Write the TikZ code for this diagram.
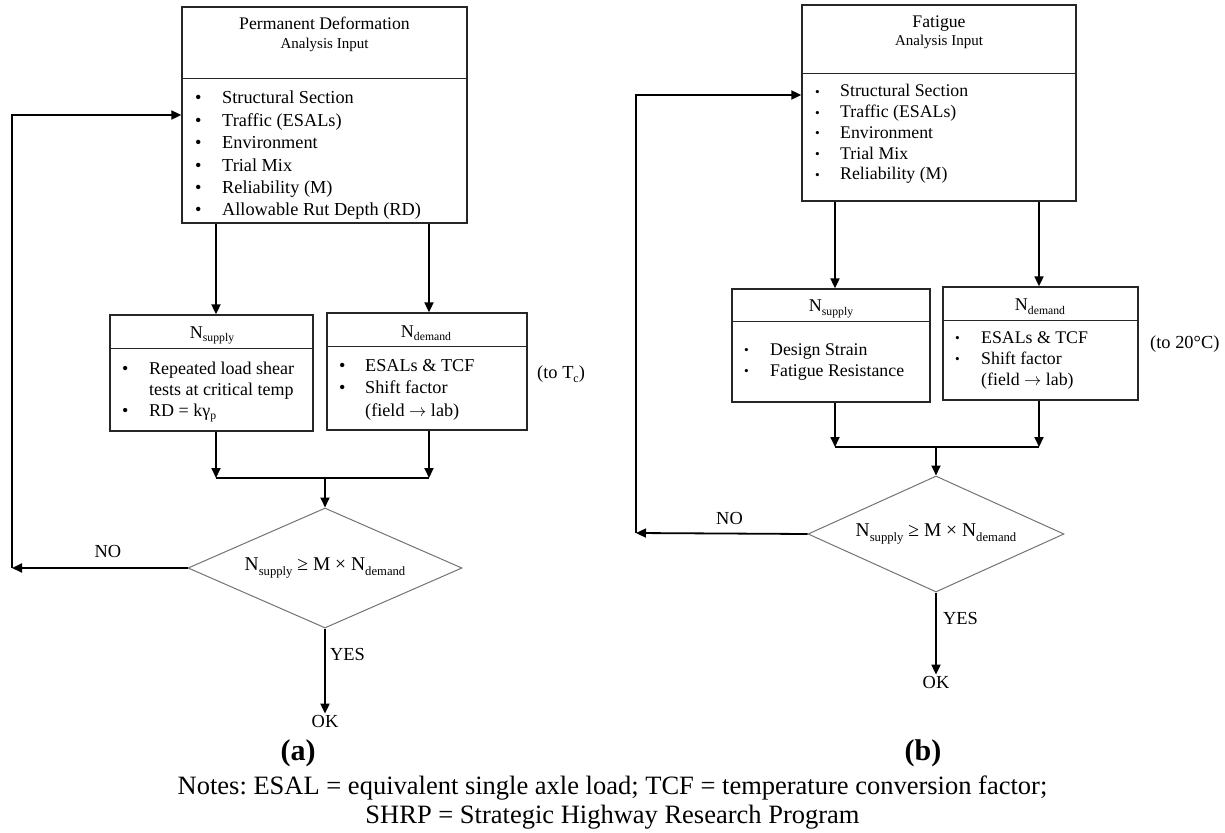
\documentclass[tikz,border=0pt]{standalone}
\usepackage{fontspec}
\setmainfont{Liberation Serif}
\usetikzlibrary{arrows.meta,calc,shapes.geometric}
\frenchspacing

% lowered, reduced text for subscripts such as N_supply
\newcommand{\subtxt}[1]{\raisebox{-0.22em}{\scalebox{0.65}{#1}}}
% small bullet used in the fatigue panel
\newcommand{\smallbul}{\raisebox{0.5pt}{\scalebox{0.75}{\textbullet}}}
% wide arrow for "field -> lab"
\newcommand{\toarrow}{\ensuremath{\rightarrow}}

\begin{document}
\begin{tikzpicture}[x=1pt,y=-1pt,
  box/.style={draw=black!85, line width=1.3pt, inner sep=0pt},
  divider/.style={draw=black!85, line width=1.3pt},
  decision/.style={draw=black!55, line width=1pt, shape=diamond, aspect=2.3, inner sep=0pt,
    font=\fontsize{19.5}{22}\selectfont},
  conn/.style={line width=1.8pt},
  arr/.style={conn, -{Triangle[length=10pt,width=9pt]}},
  lbl/.style={inner sep=0pt, anchor=base},
  ttl/.style={lbl, font=\fontsize{17.7}{21}\selectfont},
  subttl/.style={lbl, font=\fontsize{15}{18}\selectfont},
  ntl/.style={lbl, font=\fontsize{18}{21}\selectfont},
  word/.style={lbl, font=\fontsize{18.4}{21}\selectfont},
  lst/.style={inner sep=0pt, anchor=base west},
  panel/.style={lbl, font=\bfseries\fontsize{30}{34}\selectfont},
  note/.style={lbl, font=\fontsize{26.5}{30}\selectfont}
]
\useasboundingbox (0,0) rectangle (1225,832);

%% ---------------- (a) Permanent deformation ----------------
\node[box, minimum width=285pt, minimum height=216pt] (pdin) at (324.5,115) {};
\draw[divider] ($(pdin.north west)+(0,72)$) -- ($(pdin.north east)+(0,72)$);
\node[ttl] (pdttl) at (324.5,30) {Permanent Deformation};
\node[subttl] (pdsub) at (324.5,49) {Analysis Input};
\node[lst, font=\fontsize{18.3}{22.4}\selectfont] (pdlst) at (195,104) {%
  \begin{tabular}[t]{@{}p{27pt}@{}l@{}}
  \textbullet & Structural Section\\
  \textbullet & Traffic (ESALs)\\
  \textbullet & Environment\\
  \textbullet & Trial Mix\\
  \textbullet & Reliability (M)\\
  \textbullet & Allowable Rut Depth (RD)
  \end{tabular}};

\node[box, minimum width=203pt, minimum height=116pt] (supL) at (211.5,373) {};
\draw[divider] ($(supL.north west)+(0,34)$) -- ($(supL.north east)+(0,34)$);
\node[ntl] (supLt) at (212,338) {N\subtxt{supply}};
\node[lst, font=\fontsize{18}{21}\selectfont] (supLl) at (122,374) {%
  \begin{tabular}[t]{@{}p{27pt}@{}l@{}}
  \textbullet & Repeated load shear\\
              & tests at critical temp\\
  \textbullet & RD = kγ\subtxt{p}
  \end{tabular}};

\node[box, minimum width=200pt, minimum height=117pt] (demL) at (427,371.5) {};
\draw[divider] ($(demL.north west)+(0,34)$) -- ($(demL.north east)+(0,34)$);
\node[ntl] (demLt) at (426,337) {N\subtxt{demand}};
\node[lst, font=\fontsize{18.2}{22.5}\selectfont] (demLl) at (339,371) {%
  \begin{tabular}[t]{@{}p{26pt}@{}l@{}}
  \textbullet & ESALs \& TCF\\
  \textbullet & Shift factor\\
              & (field \toarrow{} lab)
  \end{tabular}};
\node[word, anchor=base west] (toTc) at (537,378) {(to T\subtxt{c})};

\node[decision, minimum width=274pt, minimum height=120pt] (dmL) at (325,568)
  {N\subtxt{supply} ≥ M × N\subtxt{demand}};

\node[word] (noL) at (108,557) {NO};
\node[word, anchor=base west] (yesL) at (330,660) {YES};
\node[word, inner sep=1pt] (okL) at (325,727) {OK};

% connectors of panel (a)
\coordinate (xL1) at (216,0);
\coordinate (xL2) at (429,0);
\coordinate (mL) at (325,478);
\coordinate (fbLb) at (12,568);
\coordinate (fbLt) at (12,115);
\draw[arr] (pdin.south -| xL1) -- (supL.north -| xL1);
\draw[arr] (pdin.south -| xL2) -- (demL.north -| xL2);
\draw[arr] (supL.south -| xL1) -- (mL -| xL1);
\draw[arr] (demL.south -| xL2) -- (mL -| xL2);
\draw[conn] (mL -| xL1) -- (mL -| xL2);
\draw[arr] (mL) -- (dmL.north);
\draw[arr] (dmL.west) -- (fbLb);
\draw[arr] (fbLb) -- (fbLt) -- (fbLt -| pdin.west);
\draw[arr] (dmL.south) -- (okL.north);

%% ---------------- (b) Fatigue ----------------
\node[box, minimum width=274pt, minimum height=196pt] (ftin) at (939,103) {};
\draw[divider] ($(ftin.north west)+(0,69)$) -- ($(ftin.north east)+(0,69)$);
\node[ttl] (ftttl) at (939,27.7) {Fatigue};
\node[subttl] (ftsub) at (939,46) {Analysis Input};
\node[lst, font=\fontsize{17.8}{20.7}\selectfont] (ftlst) at (815,97) {%
  \begin{tabular}[t]{@{}p{25pt}@{}l@{}}
  \smallbul & Structural Section\\
  \smallbul & Traffic (ESALs)\\
  \smallbul & Environment\\
  \smallbul & Trial Mix\\
  \smallbul & Reliability (M)
  \end{tabular}};

\node[box, minimum width=198pt, minimum height=113pt] (supR) at (831,345.5) {};
\draw[divider] ($(supR.north west)+(0,33)$) -- ($(supR.north east)+(0,33)$);
\node[ntl] (supRt) at (831,311.7) {N\subtxt{supply}};
\node[lst, font=\fontsize{17.8}{21}\selectfont] (supRl) at (744,355) {%
  \begin{tabular}[t]{@{}p{26pt}@{}l@{}}
  \smallbul & Design Strain\\
  \smallbul & Fatigue Resistance
  \end{tabular}};

\node[box, minimum width=195pt, minimum height=113pt] (demR) at (1040.5,343.5) {};
\draw[divider] ($(demR.north west)+(0,34)$) -- ($(demR.north east)+(0,34)$);
\node[ntl] (demRt) at (1040,310.7) {N\subtxt{demand}};
\node[lst, font=\fontsize{17.8}{21}\selectfont] (demRl) at (955,343) {%
  \begin{tabular}[t]{@{}p{26pt}@{}l@{}}
  \smallbul & ESALs \& TCF\\
  \smallbul & Shift factor\\
            & (field \toarrow{} lab)
  \end{tabular}};
\node[word, anchor=base west] (to20) at (1150,348) {(to 20°C)};

\node[decision, minimum width=256pt, minimum height=116pt] (dmR) at (936,534)
  {N\subtxt{supply} ≥ M × N\subtxt{demand}};

\node[word] (noR) at (729.5,524) {NO};
\node[word, anchor=base west] (yesR) at (943,624) {YES};
\node[word, inner sep=1pt] (okR) at (936,688) {OK};

% connectors of panel (b)
\coordinate (xR1) at (835,0);
\coordinate (xR2) at (1039,0);
\coordinate (mR) at (936,447);
\coordinate (fbRb) at (636,533);
\coordinate (fbRt) at (636,95);
\draw[arr] (ftin.south -| xR1) -- (supR.north -| xR1);
\draw[arr] (ftin.south -| xR2) -- (demR.north -| xR2);
\draw[arr] (supR.south -| xR1) -- (mR -| xR1);
\draw[arr] (demR.south -| xR2) -- (mR -| xR2);
\draw[conn] (mR -| xR1) -- (mR -| xR2);
\draw[arr] (mR) -- (dmR.north);
\draw[arr] (dmR.west) -- (fbRb);
\draw[arr] (fbRb) -- (fbRt) -- (fbRt -| ftin.west);
\draw[arr] (dmR.south) -- (okR.north);

%% ---------------- captions and notes ----------------
\node[panel] (capa) at (298,760) {(a)};
\node[panel] (capb) at (923,760) {(b)};
\node[note] (notes1) at (612.5,794) {Notes: ESAL = equivalent single axle load; TCF = temperature conversion factor;};
\node[note] (notes2) at (612.5,823) {SHRP = Strategic Highway Research Program};
\end{tikzpicture}
\end{document}
